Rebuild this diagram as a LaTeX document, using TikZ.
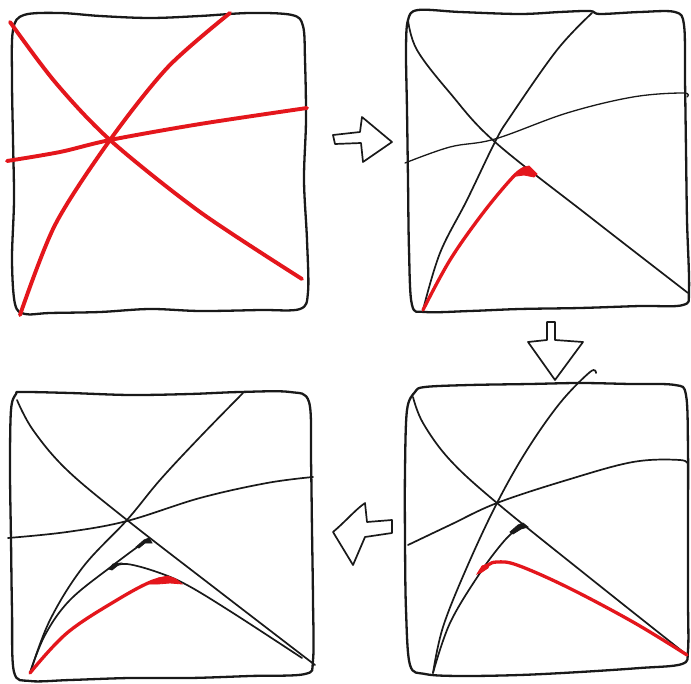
\documentclass[tikz,border=0pt]{standalone}
\usetikzlibrary{calc}
\definecolor{pen}{RGB}{228,22,28}
\definecolor{ink}{RGB}{25,25,25}
\tikzset{
  frame/.style={draw=ink, line width=2.3pt, line join=round},
  inkline/.style={draw=ink, line width=1.7pt, line cap=round},
  redline/.style={draw=pen, line width=3.3pt, line cap=round},
  redfat/.style={draw=pen, line width=3.9pt, line cap=round},
  blobred/.style={fill=pen, draw=pen, line width=0.8pt},
  blobink/.style={fill=ink, draw=ink, line width=0.8pt},
  arrowshape/.style={draw=ink, line width=1.7pt, line join=round, fill=white}
}
\begin{document}
\begin{tikzpicture}[x=1pt,y=-1pt]
\useasboundingbox (0,0) rectangle (691,684);
\fill[white] (0,0) rectangle (691,684);

% ---------------- Panel 1 (top left) ----------------
\draw[frame] plot[smooth cycle, tension=0.55] coordinates {
 (24,15) (60,13) (100,16) (150,18) (200,16) (250,13) (292,15) (303,26)
 (305,60) (306,120) (304,180) (307,240) (308,292) (300,309) (260,310)
 (200,311) (150,309) (100,312) (50,313) (25,314) (15,304) (12,260)
 (14,200) (13,140) (12,80) (13,30)};
\draw[redfat] plot[smooth, tension=0.5] coordinates {
 (10,22) (55,82) (110,140) (200,212) (302,279)};
\draw[redfat] plot[smooth, tension=0.5] coordinates {
 (230,13) (168,67) (110,140) (55,225) (20,315)};
\draw[redfat] plot[smooth, tension=0.5] coordinates {
 (7,161) (60,152) (110,140) (200,124) (307,108)};

% ---------------- Arrow 1 (right) ----------------
\draw[arrowshape] (333,135) -- (360,132) -- (362,117) -- (392,142)
  -- (363,162) -- (361,143) -- (335,144) -- cycle;

% ---------------- Panel 2 (top right) ----------------
\draw[frame] plot[smooth cycle, tension=0.55] coordinates {
 (418,10) (460,12) (520,14) (560,12) (590,11) (600,14) (640,12) (675,12)
 (684,25) (685,80) (686,150) (687,220) (689,290) (683,305) (640,306)
 (580,308) (520,309) (470,311) (425,312) (412,305) (409,250) (408,180)
 (407,110) (406,50) (408,20)};
\draw[inkline] plot[smooth, tension=0.6] coordinates {
 (408,20) (417,50) (450,93) (495,142) (590,217) (688,293)};
\draw[inkline] plot[smooth, tension=0.6] coordinates {
 (592,13) (557,50) (510,117) (495,142) (467,200) (440,253) (423,310)};
\draw[inkline, line width=1.3pt] plot[smooth, tension=0.6] coordinates {
 (405,163) (450,147) (495,139) (567,113) (633,97) (683,93) (687,97)};
\draw[redline] plot[smooth, tension=0.6] coordinates {
 (423,310) (450,260) (483,213) (513,177) (525,168)};
\fill[blobred] (517,176) -- (525,167) -- (529,166) -- (537,174) -- (534,177) -- (524,175) -- cycle;

% ---------------- Arrow 2 (down) ----------------
\draw[arrowshape] (547,322) -- (555,322) -- (555,340) -- (583,342)
  -- (555,380) -- (528,342) -- (547,340) -- cycle;

% ---------------- Panel 3 (bottom right) ----------------
\draw[frame] plot[smooth cycle, tension=0.55] coordinates {
 (425,387) (470,385) (530,384) (580,383) (630,384) (675,385) (686,395)
 (688,450) (688,520) (688,600) (688,650) (682,664) (640,668) (580,672)
 (520,675) (460,676) (425,674) (410,665) (406,610) (405,540) (405,470)
 (407,410) (415,392)};
\draw[inkline] plot[smooth, tension=0.6] coordinates {
 (413,397) (423,423) (450,460) (497,503) (590,578) (687,655)};
\draw[inkline] plot[smooth, tension=0.6] coordinates {
 (596,373) (590,372) (560,403) (527,450) (497,503) (467,567) (443,627) (433,673)};
\draw[inkline] plot[smooth, tension=0.6] coordinates {
 (408,545) (450,525) (497,503) (567,480) (633,462) (680,460) (688,465)};
\draw[inkline] plot[smooth, tension=0.6] coordinates {
 (433,673) (450,623) (480,573) (505,540) (521,526)};
\fill[blobink] (510,532) -- (518,525) -- (523,523) -- (528,527) -- (521,529) -- (513,534) -- cycle;
\draw[redline] plot[smooth, tension=0.6] coordinates {
 (480,572) (488,565) (497,562) (517,565) (567,587) (633,622) (687,655)};
\fill[blobred] (477,574) -- (482,566) -- (490,563) -- (488,568) -- (482,572) -- cycle;

% ---------------- Arrow 3 (left) ----------------
\draw[arrowshape] (333,532) .. controls (345,522) and (355,510) .. (365,503)
  -- (367,522) -- (392,520) -- (392,533) -- (365,537) -- (353,565) -- cycle;

% ---------------- Panel 4 (bottom left) ----------------
\draw[frame] plot[smooth cycle, tension=0.55] coordinates {
 (22,392) (70,393) (130,395) (190,394) (240,392) (290,392) (309,402)
 (311,460) (312,530) (313,600) (313,660) (305,674) (250,676) (190,678)
 (130,678) (70,680) (30,681) (14,672) (12,610) (11,540) (10,470)
 (11,410) (16,394)};
\draw[inkline] plot[smooth, tension=0.6] coordinates {
 (17,400) (33,430) (67,470) (127,520) (220,592) (315,665)};
\draw[inkline] plot[smooth, tension=0.6] coordinates {
 (243,393) (200,437) (160,480) (127,520) (83,567) (50,620) (30,673)};
\draw[inkline] plot[smooth, tension=0.6] coordinates {
 (8,538) (67,532) (127,521) (200,498) (267,483) (313,477)};
\draw[inkline] plot[smooth, tension=0.6] coordinates {
 (30,673) (45,635) (70,600) (112,566) (147,540)};
\fill[blobink] (136,547) -- (144,540) -- (149,538) -- (152,543) -- (145,543) -- (139,548) -- cycle;
\draw[inkline] plot[smooth, tension=0.6] coordinates {
 (112,567) (127,564) (157,572) (187,585) (233,613) (302,658)};
\fill[blobink] (109,569) -- (113,564) -- (121,563) -- (117,566) -- (112,570) -- cycle;
\draw[redline] plot[smooth, tension=0.6] coordinates {
 (30,673) (67,633) (117,600) (153,581) (172,579)};
\fill[blobred] (150,584) -- (158,578) -- (168,576) -- (176,579) -- (182,584) -- (170,583) -- (158,584) -- cycle;
\end{tikzpicture}
\end{document}
